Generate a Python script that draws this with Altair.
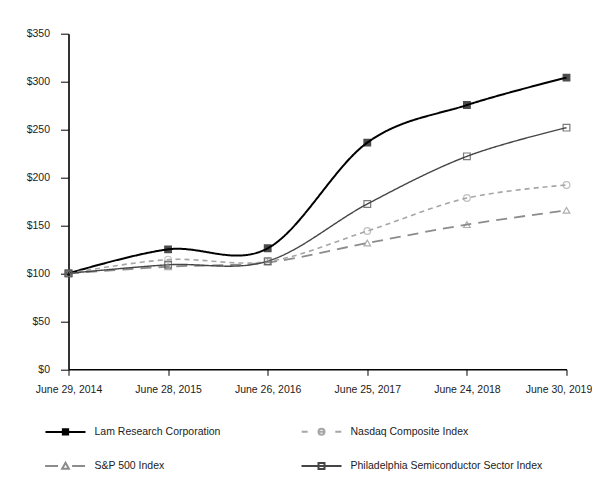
import altair as alt
import pandas as pd

dates = ["June 29, 2014", "June 28, 2015", "June 26, 2016",
         "June 25, 2017", "June 24, 2018", "June 30, 2019"]
# order gives the legend's two columns: Lam / S&P, then Nasdaq / Philadelphia
series = ["Lam Research Corporation", "S&P 500 Index",
          "Nasdaq Composite Index", "Philadelphia Semiconductor Sector Index"]
lam = [100, 125.1, 126.2, 236.4, 275.6, 304.2]
sp500 = [100, 107.0, 111.5, 131.7, 150.9, 165.8]
nasdaq = [100, 114.4, 112.3, 144.2, 178.6, 192.2]
sox = [100, 109.0, 112.8, 172.4, 222.1, 252.0]
y_ticks = [0, 50, 100, 150, 200, 250, 300, 350]

colors = ["#000000", "#8c8c8c", "#a6a6a6", "#454545"]
dashes = [[1, 0], [11, 7], [5, 4], [1, 0]]
widths = [2, 1.4, 1.4, 1.4]
shapes = ["square", "triangle-up", "circle", "square"]
fills = ["#000000", "transparent", "transparent", "transparent"]
sizes = [44, 45, 36, 40]
legend_shapes = [
    "M-1.667,0H1.667M-0.22,-0.22H0.22V0.22H-0.22Z",
    "M-1.7,0H-0.62M0.55,0H1.63M0,-0.28L0.28,0.22H-0.28Z",
    "M-1.65,0H-1.15M1.15,0H1.65M0.25,0A0.25,0.25,0,1,1,-0.25,0A0.25,0.25,0,1,1,0.25,0M-0.25,0H0.25",
    "M-1.667,0H1.667M-0.25,-0.25H0.25V0.25H-0.25Z",
]

rows = []
for name, vals in zip(series, [lam, sp500, nasdaq, sox]):
    for d, v in zip(dates, vals):
        rows.append({"date": d, "series": name, "value": v})
df = pd.DataFrame(rows)

FONT = "Liberation Sans"

x_enc = alt.X("date:N", sort=dates, scale=alt.Scale(padding=0),
              axis=alt.Axis(title=None, labelAngle=0, tickSize=6, labelPadding=9,
                            labelOffset={"condition": {"test": f"datum.value == '{dates[-1]}'",
                                                       "value": -8},
                                         "value": 0},
                            domainColor="#000000", domainWidth=1.6,
                            tickColor="#000000", tickWidth=1))
y_enc = alt.Y("value:Q", scale=alt.Scale(domain=[0, 350], nice=False),
              axis=alt.Axis(title=None, values=y_ticks, format="$,.0f", tickSize=8,
                            labelPadding=11, domainColor="#000000", domainWidth=1.6,
                            tickColor="#000000", tickWidth=1, grid=False))

base = alt.Chart(df)

lines = base.mark_line(interpolate="cardinal").encode(
    x=x_enc, y=y_enc,
    color=alt.Color("series:N", scale=alt.Scale(domain=series, range=colors), legend=None),
    strokeDash=alt.StrokeDash("series:N", scale=alt.Scale(domain=series, range=dashes), legend=None),
    strokeWidth=alt.StrokeWidth("series:N", scale=alt.Scale(domain=series, range=widths), legend=None),
)

points = base.mark_point(filled=True, strokeWidth=1.2).encode(
    x=x_enc, y=y_enc,
    shape=alt.Shape("series:N", scale=alt.Scale(domain=series, range=shapes), legend=None),
    fill=alt.Fill("series:N", scale=alt.Scale(domain=series, range=fills), legend=None),
    stroke=alt.Stroke("series:N", scale=alt.Scale(domain=series, range=colors), legend=None),
    size=alt.Size("series:N", scale=alt.Scale(domain=series, range=sizes), legend=None),
)

leg = alt.Legend(title=None, orient="none", legendX=-16, legendY=385, columns=2,
                 symbolSize=576, symbolStrokeWidth=2, symbolOpacity=1,
                 labelOffset=16, columnPadding=75, rowPadding=14.4, padding=0,
                 labelLimit=400,
                 labelFont=FONT, labelFontSize=10.5, labelColor="#222222")

legend_layer = base.transform_filter("datum.value < 0").mark_point(filled=True).encode(
    x=x_enc, y=y_enc,
    shape=alt.Shape("series:N", scale=alt.Scale(domain=series, range=legend_shapes), legend=leg),
    fill=alt.Fill("series:N", scale=alt.Scale(domain=series, range=fills), legend=leg),
    stroke=alt.Stroke("series:N", scale=alt.Scale(domain=series, range=colors), legend=leg),
)

chart = alt.layer(lines, points, legend_layer).resolve_scale(
    shape="independent", fill="independent", stroke="independent"
).properties(
    width=498, height=335.6,
    autosize=alt.AutoSizeParams(type="none"),
    padding={"left": 60.5, "top": 25.7, "right": 25, "bottom": 120},
).configure_view(stroke=None).configure_axis(
    labelFont=FONT, labelFontSize=10.5, labelColor="#222222"
)

chart.save("out.html", embed_options={"renderer": "svg", "actions": False})
